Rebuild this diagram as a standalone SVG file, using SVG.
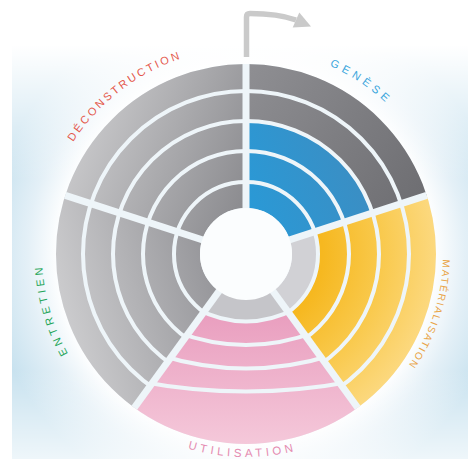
<svg xmlns="http://www.w3.org/2000/svg" xmlns:xlink="http://www.w3.org/1999/xlink" width="468" height="459" viewBox="0 0 468 459">
<style>
.lbl{font-family:"Liberation Sans",Arial,sans-serif;font-size:11px;}
.gap{fill:none;stroke:#eef5f9;stroke-width:4;}
.div{stroke:#eef5f9;stroke-width:7;stroke-linecap:butt;}
.band{fill:none;}
</style>
<defs>
<radialGradient id="bgRad" gradientUnits="userSpaceOnUse" cx="246" cy="255" r="260">
<stop offset="0" stop-color="#ffffff"/><stop offset="0.72" stop-color="#ffffff"/><stop offset="0.84" stop-color="#e4f0f7"/><stop offset="1" stop-color="#c8e2ef"/>
</radialGradient>
<linearGradient id="bgTop" gradientUnits="userSpaceOnUse" x1="0" y1="0" x2="0" y2="180">
<stop offset="0" stop-color="#fff" stop-opacity="1"/><stop offset="0.25" stop-color="#fff" stop-opacity="1"/><stop offset="1" stop-color="#fff" stop-opacity="0"/>
</linearGradient>
<linearGradient id="bgBot" gradientUnits="userSpaceOnUse" x1="0" y1="370" x2="0" y2="459">
<stop offset="0" stop-color="#fff" stop-opacity="0"/><stop offset="1" stop-color="#fff" stop-opacity="0.7"/>
</linearGradient>
<linearGradient id="gDark" gradientUnits="userSpaceOnUse" x1="246" y1="64" x2="430" y2="200"><stop offset="0" stop-color="#8f8f93"/><stop offset="1" stop-color="#6d6d71"/></linearGradient>
<linearGradient id="gBlue" gradientUnits="userSpaceOnUse" x1="250" y1="210" x2="380" y2="160"><stop offset="0" stop-color="#2a99d6"/><stop offset="1" stop-color="#3e8cc0"/></linearGradient>
<radialGradient id="gYellow" gradientUnits="userSpaceOnUse" cx="246" cy="254" r="192"><stop offset="0.4" stop-color="#f6b820"/><stop offset="0.7" stop-color="#f9c94c"/><stop offset="1" stop-color="#fcd980"/></radialGradient>
<linearGradient id="gPink" gradientUnits="userSpaceOnUse" x1="0" y1="310" x2="0" y2="450"><stop offset="0" stop-color="#e99dbe"/><stop offset="1" stop-color="#f5cadb"/></linearGradient>
<linearGradient id="gEnt" gradientUnits="userSpaceOnUse" x1="55" y1="300" x2="205" y2="260"><stop offset="0" stop-color="#cdcdcf"/><stop offset="1" stop-color="#98989c"/></linearGradient>
<linearGradient id="gDec" gradientUnits="userSpaceOnUse" x1="60" y1="160" x2="246" y2="235"><stop offset="0" stop-color="#cbcbcd"/><stop offset="1" stop-color="#87878b"/></linearGradient>
<clipPath id="cGen"><path d="M246,254 L246,-6 L398.8,43.7 L493.3,173.7 Z"/></clipPath>
<clipPath id="cMat"><path d="M246,254 L493.3,173.7 L493.3,334.3 L398.8,464.3 Z"/></clipPath>
<clipPath id="cUti"><path d="M246,254 L398.8,464.3 L246,514 L93.2,464.3 Z"/></clipPath>
<clipPath id="cEnt"><path d="M246,254 L93.2,464.3 L-1.3,334.3 L-1.3,173.7 Z"/></clipPath>
<clipPath id="cDec"><path d="M246,254 L-1.3,173.7 L93.2,43.7 L246,-6 Z"/></clipPath>
<path id="cw206" d="M246,48 A206,206 0 1,1 246,460 A206,206 0 1,1 246,48"/>
<path id="cw204" d="M246,50 A204,204 0 1,1 246,458 A204,204 0 1,1 246,50"/>
<path id="cw197" d="M246,57 A197,197 0 1,1 246,451 A197,197 0 1,1 246,57"/>
<path id="ccw203" d="M246,51 A203,203 0 1,0 246,457 A203,203 0 1,0 246,51"/>
</defs>

<rect width="468" height="459" fill="#ffffff"/>
<rect x="12" y="0" width="456" height="459" fill="url(#bgRad)"/>
<rect x="0" y="0" width="468" height="180" fill="url(#bgTop)"/>
<rect x="0" y="370" width="468" height="89" fill="url(#bgBot)"/>

<circle cx="246" cy="254" r="190" fill="#eef5f9"/>

<g id="seg-genese">
<g clip-path="url(#cGen)">
<circle class="band" cx="246" cy="254" r="58" stroke="url(#gBlue)" stroke-width="24"/>
<circle class="band" cx="246" cy="254" r="87.5" stroke="url(#gBlue)" stroke-width="27"/>
<circle class="band" cx="246" cy="254" r="118" stroke="url(#gBlue)" stroke-width="26"/>
<circle class="band" cx="246" cy="254" r="148" stroke="url(#gDark)" stroke-width="26"/>
<circle class="band" cx="246" cy="254" r="177.5" stroke="url(#gDark)" stroke-width="25"/>
</g>
<text class="lbl" fill="#3aa5dc" letter-spacing="4.2" text-anchor="middle"><textPath href="#cw206" startOffset="121.5">GENÈSE</textPath></text>
</g>

<g id="seg-materialisation">
<g clip-path="url(#cMat)">
<circle class="band" cx="246" cy="254" r="58" stroke="#d1d1d5" stroke-width="24"/>
<circle class="band" cx="246" cy="254" r="87.5" stroke="url(#gYellow)" stroke-width="27"/>
<circle class="band" cx="246" cy="254" r="118" stroke="url(#gYellow)" stroke-width="26"/>
<circle class="band" cx="246" cy="254" r="148" stroke="url(#gYellow)" stroke-width="26"/>
<circle class="band" cx="246" cy="254" r="177.5" stroke="url(#gYellow)" stroke-width="25"/>
</g>
<text class="lbl" fill="#e9a447" letter-spacing="1.7" text-anchor="middle" style="font-size:10px"><textPath href="#cw197" startOffset="371.9">MATÉRIALISATION</textPath></text>
</g>

<g id="seg-utilisation">
<g clip-path="url(#cUti)">
<circle cx="246" cy="254" r="190" fill="url(#gPink)"/>
<path d="M246,254 L170,254 L196,308.5 Q246,334.5 296,308.5 L322,254 Z" fill="#c5c5c9"/>
<path class="gap" d="M196,308.5 Q246,334.5 296,308.5"/>
<path class="gap" d="M176,331.6 Q246,358.4 316,331.6"/>
<path class="gap" d="M158,354.5 Q246,382.5 334,354.5"/>
<path class="gap" d="M140,381.5 Q246,401.5 352,381.5"/>
</g>
<text class="lbl" fill="#e58cb1" letter-spacing="3.7" text-anchor="middle" style="font-size:11.5px"><textPath href="#ccw203" startOffset="634">UTILISATION</textPath></text>
</g>

<g id="seg-entretien">
<g clip-path="url(#cEnt)">
<circle class="band" cx="246" cy="254" r="58" stroke="url(#gEnt)" stroke-width="24"/>
<circle class="band" cx="246" cy="254" r="87.5" stroke="url(#gEnt)" stroke-width="27"/>
<circle class="band" cx="246" cy="254" r="118" stroke="url(#gEnt)" stroke-width="26"/>
<circle class="band" cx="246" cy="254" r="148" stroke="url(#gEnt)" stroke-width="26"/>
<circle class="band" cx="246" cy="254" r="177.5" stroke="url(#gEnt)" stroke-width="25"/>
</g>
<text class="lbl" fill="#27a65a" letter-spacing="3.55" text-anchor="middle"><textPath href="#cw204" startOffset="904">ENTRETIEN</textPath></text>
</g>

<g id="seg-deconstruction">
<g clip-path="url(#cDec)">
<circle class="band" cx="246" cy="254" r="58" stroke="url(#gDec)" stroke-width="24"/>
<circle class="band" cx="246" cy="254" r="87.5" stroke="url(#gDec)" stroke-width="27"/>
<circle class="band" cx="246" cy="254" r="118" stroke="url(#gDec)" stroke-width="26"/>
<circle class="band" cx="246" cy="254" r="148" stroke="url(#gDec)" stroke-width="26"/>
<circle class="band" cx="246" cy="254" r="177.5" stroke="url(#gDec)" stroke-width="25"/>
</g>
<text class="lbl" fill="#e4574a" letter-spacing="2.6" text-anchor="middle"><textPath href="#cw206" startOffset="1159">DÉCONSTRUCTION</textPath></text>
</g>

<g id="dividers">
<line class="div" x1="246" y1="254" x2="246" y2="64"/>
<line class="div" x1="246" y1="254" x2="426.7" y2="195.3"/>
<line class="div" x1="246" y1="254" x2="357.7" y2="407.7"/>
<line class="div" x1="246" y1="254" x2="134.3" y2="407.7"/>
<line class="div" x1="246" y1="254" x2="65.3" y2="195.3"/>
<circle cx="246" cy="254" r="46" fill="#fbfdfe"/>
</g>

<g id="connectors">
<path d="M246.5,57 L246.5,17 Q246.5,13.5 250,13.5 C265,13.5 282,15 296,20" fill="none" stroke="#cacaca" stroke-width="5.5"/>
<polygon points="311,26.5 299.3,12.4 292.7,27.6" fill="#cacaca"/>
</g>
</svg>
